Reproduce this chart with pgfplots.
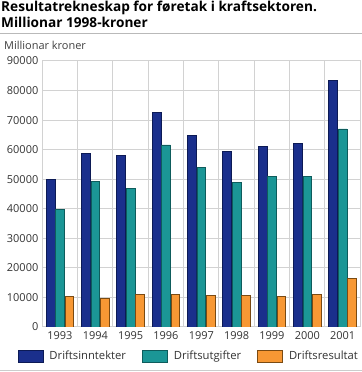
\documentclass[border=0pt]{standalone}
\usepackage{pgfplots}
\pgfplotsset{compat=1.18}
\usepackage{fontspec}
\setmainfont{Open Sans}
\definecolor{cblue}{HTML}{1A2F8C}
\definecolor{cblueD}{HTML}{0C1A55}
\definecolor{cteal}{HTML}{1B9696}
\definecolor{ctealD}{HTML}{0E5C5C}
\definecolor{corange}{HTML}{F79834}
\definecolor{corangeD}{HTML}{7A4A12}
\definecolor{gridc}{HTML}{D2D2D2}
\begin{document}
\begin{tikzpicture}[x=1bp,y=1bp]
\path[use as bounding box] (0,0) rectangle (362,372);
\node[anchor=base west, font=\fontsize{13.7}{15}\selectfont\bfseries, inner sep=0] at (1,361) {Resultatrekneskap for føretak i kraftsektoren.};
\node[anchor=base west, font=\fontsize{13.7}{15}\selectfont\bfseries, inner sep=0] at (1,344.3) {Millionar 1998-kroner};
\draw[gray!55, line width=1bp] (0,338.5) -- (362,338.5);
\node[anchor=base west, font=\fontsize{11}{13}\selectfont, text=black!75, inner sep=0] at (4,323) {Millionar kroner};
\begin{axis}[
  at={(42.3bp,45bp)}, anchor=south west, scale only axis,
  width=318bp, height=266bp,
  ybar=0.7bp, bar width=8.7bp,
  xmin=-0.5, xmax=8.5, ymin=0, ymax=90000,
  scaled y ticks=false,
  xtick={0,...,8},
  xticklabels={1993,1994,1995,1996,1997,1998,1999,2000,2001},
  minor xtick={0.5,1.5,...,7.5},
  xminorgrids=true, ymajorgrids=true,
  ytick={0,10000,...,90000},
  yticklabels={0,10000,20000,30000,40000,50000,60000,70000,80000,90000},
  major tick length=0, minor tick length=0,
  grid style={draw=gridc, line width=1bp},
  minor grid style={draw=gridc, line width=1bp},
  axis line style={draw=gridc, line width=1bp},
  ticklabel style={font=\fontsize{11}{12}\selectfont, text=black!80},
  yticklabel style={xshift=-0.5bp},
  xticklabel style={yshift=-1bp},
  legend style={at={(-0.078,-0.082)}, anchor=north west, draw=none, fill=none,
     legend columns=3, font=\fontsize{11.3}{12}\selectfont, text=black!80,
     /tikz/every odd column/.append style={column sep=4bp},
     /tikz/every even column/.append style={column sep=14bp},
     inner sep=0pt},
  legend image code/.code={\draw[#1, line width=0.8bp] (0bp,-6bp) rectangle (25bp,6bp);},
  legend cell align=left,
]
\addplot[fill=cblue, draw=cblueD, line width=0.8bp] coordinates {(0,49900) (1,58600) (2,57900) (3,72500) (4,64900) (5,59500) (6,61000) (7,62000) (8,83300)};
\addlegendentry[xshift=2bp]{Driftsinntekter}
\addplot[fill=cteal, draw=ctealD, line width=0.8bp] coordinates {(0,39900) (1,49100) (2,47000) (3,61600) (4,54100) (5,48900) (6,50800) (7,51000) (8,67000)};
\addlegendentry[xshift=-3bp]{Driftsutgifter}
\addplot[fill=corange, draw=corangeD, line width=0.8bp] coordinates {(0,10200) (1,9600) (2,11100) (3,11000) (4,10800) (5,10800) (6,10300) (7,11000) (8,16400)};
\addlegendentry{Driftsresultat}
\end{axis}
\draw[gray!40, line width=1bp] (0,1.5) -- (362,1.5);
\end{tikzpicture}
\end{document}
